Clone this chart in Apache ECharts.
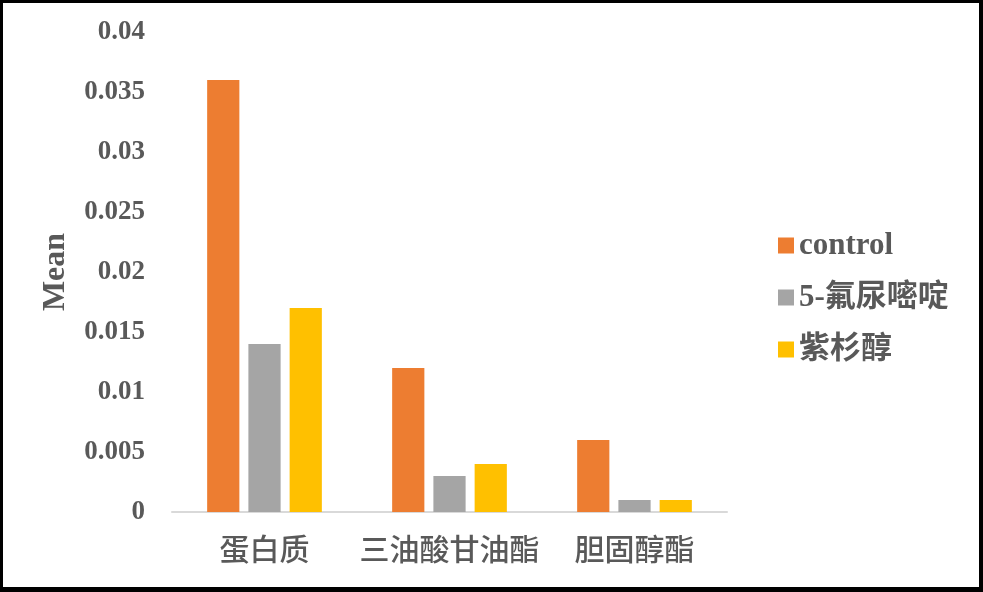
<!DOCTYPE html>
<html>
<head>
<meta charset="utf-8">
<script src="https://cdn.jsdelivr.net/npm/echarts@6/dist/echarts.min.js"></script>
<style>
    html, body { margin: 0; padding: 0; background: #fff; }
    #main {
        width: 983px; height: 592px; box-sizing: border-box;
        border-style: solid; border-color: #000;
        border-width: 3px 4px 5px 3px;
    }
</style>
</head>
<body>
<div id="main"></div>
<script>
    var categories = ['蛋白质', '三油酸甘油酯', '胆固醇酯'];
    var seriesNames = ['control', '5-氟尿嘧啶', '紫杉醇'];
    var controlValues = [0.036, 0.012, 0.006];
    var fuValues = [0.014, 0.003, 0.001];
    var taxolValues = [0.017, 0.004, 0.001];
    var colors = ['#ED7D31', '#A5A5A5', '#FFC000'];

    var textColor = '#595959';
    var serif = "'Liberation Serif', 'Times New Roman', 'Noto Sans CJK SC', serif";
    var cjk = "'Noto Sans CJK SC', sans-serif";

    var chart = echarts.init(document.getElementById('main'));

    var option = {
        animation: false,
        color: colors,
        grid: {
            left: 169,
            right: 252,
            top: 29,
            bottom: 75
        },
        legend: {
            orient: 'vertical',
            left: 770,
            top: 222,
            itemWidth: 16,
            itemHeight: 16,
            itemGap: 21,
            icon: 'rect',
            textStyle: {
                color: textColor,
                fontFamily: serif,
                fontWeight: 'bold',
                fontSize: 31
            },
            data: seriesNames
        },
        xAxis: {
            type: 'category',
            data: categories,
            axisLine: { lineStyle: { color: '#D9D9D9', width: 2 } },
            axisTick: { show: false },
            axisLabel: {
                interval: 0,
                color: textColor,
                fontFamily: cjk,
                fontWeight: 500,
                fontSize: 30,
                margin: 22
            }
        },
        yAxis: {
            type: 'value',
            min: 0,
            max: 0.04,
            interval: 0.005,
            name: 'Mean',
            nameLocation: 'middle',
            nameRotate: 90,
            nameGap: 100,
            nameTextStyle: {
                color: textColor,
                fontFamily: serif,
                fontWeight: 'bold',
                fontSize: 32
            },
            axisLine: { show: false },
            axisTick: { show: false },
            splitLine: { show: false },
            axisLabel: {
                color: textColor,
                fontFamily: serif,
                fontWeight: 'bold',
                fontSize: 27,
                margin: 27,
                formatter: function (v) { return '' + parseFloat(v.toFixed(3)); }
            }
        },
        series: [
            { name: seriesNames[0], type: 'bar', data: controlValues, barGap: '28%', barCategoryGap: '38%' },
            { name: seriesNames[1], type: 'bar', data: fuValues, barGap: '28%', barCategoryGap: '38%' },
            { name: seriesNames[2], type: 'bar', data: taxolValues, barGap: '28%', barCategoryGap: '38%' }
        ]
    };

    chart.setOption(option);
</script>
</body>
</html>
